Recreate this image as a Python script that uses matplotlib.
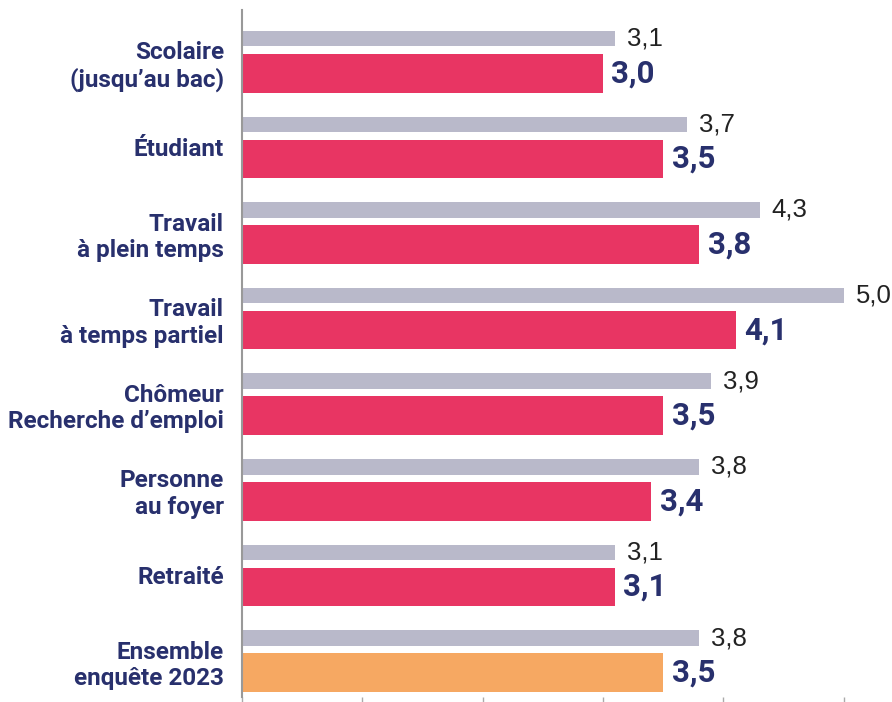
import numpy as np
import matplotlib.pyplot as plt

# Chart data
categories = ["Scolaire\n(jusqu’au bac)", "Étudiant", "Travail\nà plein temps",
              "Travail\nà temps partiel", "Chômeur\nRecherche d’emploi",
              "Personne\nau foyer", "Retraité", "Ensemble\nenquête 2023"]
previous = [3.1, 3.7, 4.3, 5.0, 3.9, 3.8, 3.1, 3.8]
current = [3.0, 3.5, 3.8, 4.1, 3.5, 3.4, 3.1, 3.5]

grey = "#b9b9ca"
pink = "#e83563"
orange = "#f6a862"
navy = "#28306d"

def fmt(v):
    return f"{v:.1f}".replace(".", ",")

fig = plt.figure(figsize=(8.92, 7.02), dpi=100)
ax = fig.add_axes([242/892, 5/702, 650/892, 687/702])

pos = np.arange(len(categories))
cur_colors = [pink] * (len(categories) - 1) + [orange]

ax.barh(pos - 0.269, previous, height=0.18, color=grey)
ax.barh(pos + 0.134, current, height=0.45, color=cur_colors)

for y, v in zip(pos, previous):
    ax.annotate(fmt(v), (v, y - 0.269), xytext=(8.5, 0), textcoords="offset points",
                va="center", ha="left", fontsize=18.5, family="Liberation Sans",
                color="#222222")
for y, v in zip(pos, current):
    ax.annotate(fmt(v), (v, y + 0.134), xytext=(6, 0), textcoords="offset points",
                va="center", ha="left", fontsize=22.5, fontweight="bold",
                family="Roboto", color=navy)

ax.set_xlim(0, 5.40)
ax.set_ylim(7.42, -0.605)
ax.set_yticks(pos)
ax.set_yticklabels(categories, fontsize=17.5, fontweight="bold", family="Roboto",
                   color=navy, linespacing=1.2)
ax.tick_params(axis="y", length=0, pad=13)
ax.set_xticks(np.arange(0, 6))
ax.set_xticklabels([])
ax.tick_params(axis="x", length=4, width=1, color="#aaaaaa", direction="out")

for s in ["top", "right", "bottom"]:
    ax.spines[s].set_visible(False)
ax.spines["left"].set_color("#999999")
ax.spines["left"].set_linewidth(1.5)

fig.savefig("out.png", dpi=100)
